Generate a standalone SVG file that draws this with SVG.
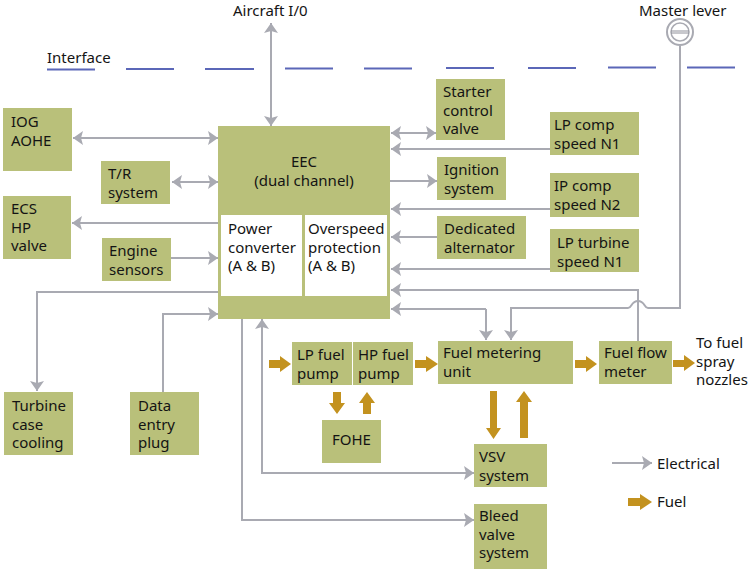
<svg xmlns="http://www.w3.org/2000/svg" width="749" height="571" viewBox="0 0 749 571">
<style>
.b{fill:#b9c07a}
.w{fill:#fff}
text{font-family:"Noto Sans","Open Sans","Liberation Sans",sans-serif;font-size:15px;fill:#141414}
.e{fill:none;stroke:#a9aab2;stroke-width:2}
.a{marker-end:url(#ah)}
.s{marker-start:url(#ah)}
.f{fill:#c3921f}
.d{stroke:#5b67b8;stroke-width:2;fill:none}
</style>
<defs>
<marker id="ah" markerUnits="userSpaceOnUse" markerWidth="11" markerHeight="14" refX="10" refY="7" orient="auto-start-reverse"><path d="M0 0L10 7L0 14L2 7Z" fill="#a9aab2"/></marker>
</defs>
<rect width="749" height="571" fill="#fff"/>
<g id="interface">
<path class="d" d="M47 69.500H95M126 69H174M205 69H254M285 68.500H333M364 68.500H412M446 68H494M528 68H576M608 67.500H656M687 67.500H735"/>
<text x="47" y="63">Interface</text>
</g>
<g id="connectors">
<path class="e a s" d="M271 23V126"/>
<path class="e a s" d="M73 138H218"/>
<path class="e a s" d="M172 182H218"/>
<path class="e a" d="M218 223H72"/>
<path class="e a" d="M171 258H218"/>
<path class="e a s" d="M391 133H436"/>
<path class="e a" d="M550 149H391"/>
<path class="e a" d="M390 181H437"/>
<path class="e a" d="M550 209H391"/>
<path class="e a" d="M437 237H391"/>
<path class="e a" d="M550 269H391"/>
<path class="e a" d="M638 341V290H391"/>
<path class="e a" d="M680 46V308H648C644 308 645 301 638 301C631 301 632 308 628 308H511V340"/>
<path class="e a" d="M486 309H391"/>
<path class="e a" d="M486 309V340"/>
<path class="e a" d="M218 292H37V391"/>
<path class="e a" d="M163 392V314H218"/>
<path class="e a s" d="M262 319V473H474"/>
<path class="e a" d="M242 319V520H474"/>
<path class="e a" d="M612 463H652"/>
<g class="f">
<path d="M269 360H280V356L291 364L280 372V368H269Z"/>
<path d="M415 360H426V356L438 364L426 372V368H415Z"/>
<path d="M575 360H586V356L597 364L586 372V368H575Z"/>
<path d="M673 360H684V355L695 363L684 371V367H673Z"/>
<path d="M333 392H341V403H345L337 414L329 403H333Z"/>
<path d="M363 414H371V403H375L367 392L359 403H363Z"/>
<path d="M490 391H497V428H501L493.500 439L486 428H490Z"/>
<path d="M520 438H528V402H532L524 391L516 402H520Z"/>
<path d="M628 498H640V494L652 502L640 510V506H628Z"/>
</g>
</g>
<g id="eec">
<rect class="b" x="218" y="126" width="172" height="193"/>
<rect class="w" x="221" y="215" width="81" height="81"/>
<rect class="w" x="305" y="215" width="82" height="81"/>
<text text-anchor="middle" x="304" y="167">EEC<tspan x="304" dy="19">(dual channel)</tspan></text>
<text x="228" y="234">Power<tspan x="228" dy="18.700">converter</tspan><tspan x="228" dy="18.700">(A &amp; B)</tspan></text>
<text x="308" y="234">Overspeed<tspan x="308" dy="18.700">protection</tspan><tspan x="308" dy="18.700">(A &amp; B)</tspan></text>
</g>
<g id="iog"><rect class="b" x="3" y="108" width="69" height="63"/><text x="11" y="127">IOG<tspan x="11" dy="18.700">AOHE</tspan></text></g>
<g id="tr"><rect class="b" x="101" y="161" width="69" height="43"/><text x="108" y="179">T/R<tspan x="108" dy="18.700">system</tspan></text></g>
<g id="ecs"><rect class="b" x="3" y="196" width="68" height="63"/><text x="11" y="214">ECS<tspan x="11" dy="18.700">HP</tspan><tspan x="11" dy="18.700">valve</tspan></text></g>
<g id="sensors"><rect class="b" x="102" y="238" width="69" height="43"/><text x="109" y="256">Engine<tspan x="109" dy="18.700">sensors</tspan></text></g>
<g id="starter"><rect class="b" x="436" y="79" width="69" height="61"/><text x="443" y="97">Starter<tspan x="443" dy="18.700">control</tspan><tspan x="443" dy="18.700">valve</tspan></text></g>
<g id="lpcomp"><rect class="b" x="550" y="112" width="89" height="43"/><text x="554" y="130">LP comp<tspan x="554" dy="18.700">speed N1</tspan></text></g>
<g id="ignition"><rect class="b" x="437" y="157" width="69" height="43"/><text x="444" y="175">Ignition<tspan x="444" dy="18.700">system</tspan></text></g>
<g id="ipcomp"><rect class="b" x="550" y="173" width="89" height="44"/><text x="554" y="191">IP comp<tspan x="554" dy="18.700">speed N2</tspan></text></g>
<g id="alternator"><rect class="b" x="437" y="216" width="89" height="43"/><text x="444" y="234">Dedicated<tspan x="444" dy="18.700">alternator</tspan></text></g>
<g id="lpturbine"><rect class="b" x="550" y="229" width="89" height="43"/><text x="557" y="248">LP turbine<tspan x="557" dy="18.700">speed N1</tspan></text></g>
<g id="turbine"><rect class="b" x="4" y="392" width="69" height="63"/><text x="12" y="411">Turbine<tspan x="12" dy="18.700">case</tspan><tspan x="12" dy="18.700">cooling</tspan></text></g>
<g id="plug"><rect class="b" x="130" y="392" width="69" height="63"/><text x="138" y="411">Data<tspan x="138" dy="18.700">entry</tspan><tspan x="138" dy="18.700">plug</tspan></text></g>
<g id="lppump"><rect class="b" x="292" y="342" width="60" height="43"/><text x="297" y="360">LP fuel<tspan x="297" dy="18.700">pump</tspan></text></g>
<g id="hppump"><rect class="b" x="353" y="342" width="60" height="43"/><text x="358" y="360">HP fuel<tspan x="358" dy="18.700">pump</tspan></text></g>
<g id="fohe"><rect class="b" x="322" y="420" width="59" height="43"/><text x="332" y="445">FOHE</text></g>
<g id="fmu"><rect class="b" x="438" y="341" width="135" height="43"/><text x="443" y="358">Fuel metering<tspan x="443" dy="18.700">unit</tspan></text></g>
<g id="ffm"><rect class="b" x="599" y="341" width="73" height="43"/><text x="604" y="358">Fuel flow<tspan x="604" dy="18.700">meter</tspan></text></g>
<g id="vsv"><rect class="b" x="474" y="444" width="73" height="43"/><text x="479" y="462">VSV<tspan x="479" dy="18.700">system</tspan></text></g>
<g id="bleed"><rect class="b" x="474" y="504" width="73" height="65"/><text x="479" y="521">Bleed<tspan x="479" dy="18.700">valve</tspan><tspan x="479" dy="18.700">system</tspan></text></g>
<g id="lever">
<circle cx="680" cy="32" r="13" fill="#fff" stroke="#a9aab2" stroke-width="2"/>
<ellipse cx="680" cy="32" rx="9" ry="9" fill="none" stroke="#a9aab2" stroke-width="1.500"/>
<path d="M671 31H689M671 33H689" stroke="#8f909a" stroke-width="1"/>
<text x="639" y="16">Master lever</text>
</g>
<g id="labels">
<text x="233" y="16">Aircraft I/0</text>
<text x="696" y="348">To fuel<tspan x="696" dy="18.700">spray</tspan><tspan x="696" dy="18.700">nozzles</tspan></text>
<text x="657" y="469">Electrical</text>
<text x="657" y="507">Fuel</text>
</g>
</svg>
